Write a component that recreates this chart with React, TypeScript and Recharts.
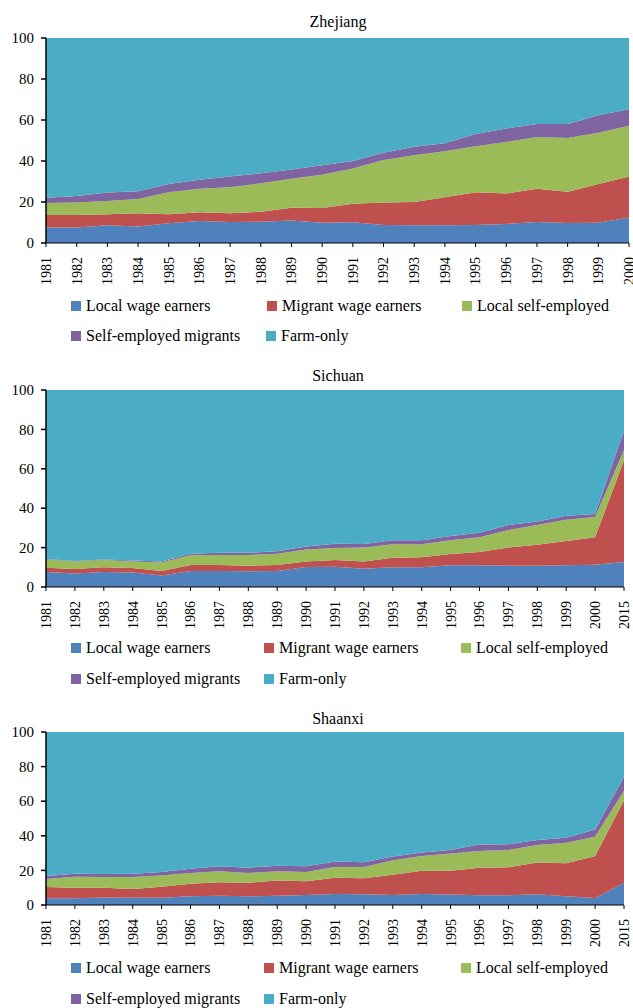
import React from 'react';
import { AreaChart, Area, XAxis, YAxis } from 'recharts';

const yearsA = ['1981', '1982', '1983', '1984', '1985', '1986', '1987', '1988', '1989', '1990', '1991', '1992', '1993', '1994', '1995', '1996', '1997', '1998', '1999', '2000'];
const yearsB = [...yearsA, '2015'];
const yTicks = [0, 20, 40, 60, 80, 100];

const seriesNames = ['Local wage earners', 'Migrant wage earners', 'Local self-employed', 'Self-employed migrants', 'Farm-only'];
const seriesKeys = ['lw', 'mw', 'ls', 'sm', 'fo'];
const seriesColors = ['#4F81BD', '#C0504D', '#9BBB59', '#8064A2', '#4BACC6'];

// Zhejiang
const zjLocalWage = [7.6, 7.6, 8.6, 8.0, 9.6, 10.7, 10.2, 10.4, 11.0, 9.9, 10.1, 8.8, 8.6, 8.6, 8.8, 9.3, 10.2, 9.8, 9.9, 12.5];
const zjMigrantWage = [6.1, 6.1, 5.4, 6.5, 4.4, 4.3, 4.3, 4.9, 6.2, 7.2, 9.1, 10.9, 11.4, 13.7, 15.9, 14.8, 16.3, 15.2, 18.9, 19.9];
const zjLocalSelf = [5.8, 6.1, 6.5, 7.0, 10.7, 11.5, 12.7, 13.8, 14.2, 16.2, 17.2, 20.8, 22.8, 22.4, 22.5, 25.2, 25.2, 26.2, 25.0, 24.8];
const zjSelfMigrant = [2.6, 3.1, 4.1, 3.7, 4.1, 4.4, 5.2, 4.9, 4.4, 4.6, 3.6, 3.5, 4.2, 3.9, 6.0, 6.5, 6.3, 6.8, 8.5, 8.0];
const zjFarmOnly = [77.9, 77.1, 75.4, 74.8, 71.2, 69.1, 67.6, 66.0, 64.2, 62.1, 60.0, 56.0, 53.0, 51.4, 46.8, 44.2, 42.0, 42.0, 37.7, 34.8];

// Sichuan
const scLocalWage = [7.6, 6.8, 7.6, 7.3, 5.8, 8.1, 8.1, 8.0, 8.1, 10.2, 10.3, 9.3, 10.0, 10.0, 11.0, 11.0, 10.8, 10.8, 11.0, 11.3, 12.7];
const scMigrantWage = [2.2, 2.3, 2.4, 2.3, 2.3, 3.1, 3.1, 2.8, 3.1, 2.7, 3.4, 3.6, 4.9, 5.1, 5.8, 6.8, 9.2, 10.7, 12.4, 13.9, 51.8];
const scLocalSelf = [4.2, 3.8, 3.7, 3.3, 4.4, 4.9, 5.0, 5.4, 5.7, 6.1, 6.1, 7.1, 6.8, 6.6, 6.9, 7.4, 8.9, 10.0, 10.8, 10.3, 5.0];
const scSelfMigrant = [0.2, 0.3, 0.2, 0.6, 0.5, 0.8, 1.2, 1.2, 1.2, 1.6, 2.2, 1.8, 2.0, 2.0, 2.2, 2.4, 2.6, 1.7, 2.0, 1.6, 10.0];
const scFarmOnly = [85.8, 86.8, 86.1, 86.5, 87.0, 83.1, 82.6, 82.6, 81.9, 79.4, 78.0, 78.2, 76.3, 76.3, 74.1, 72.4, 68.5, 66.8, 63.8, 62.9, 20.5];

// Shaanxi
const sxLocalWage = [3.9, 3.9, 4.4, 4.2, 4.2, 5.0, 5.4, 5.0, 5.4, 5.8, 6.4, 6.2, 5.8, 6.4, 6.0, 5.6, 5.6, 6.2, 5.0, 4.0, 12.7];
const sxMigrantWage = [6.5, 6.1, 5.6, 5.0, 6.4, 7.3, 7.7, 7.9, 8.7, 7.9, 9.4, 9.2, 11.7, 13.4, 13.8, 16.0, 16.2, 18.3, 19.1, 24.3, 47.8];
const sxLocalSelf = [4.6, 6.4, 6.2, 7.0, 6.4, 6.2, 6.4, 5.6, 5.4, 5.4, 6.2, 6.6, 8.3, 8.5, 9.9, 9.6, 10.0, 10.2, 11.9, 11.2, 5.6];
const sxSelfMigrant = [1.8, 1.7, 1.7, 1.9, 2.1, 2.5, 2.9, 3.1, 3.2, 3.3, 3.2, 2.7, 2.3, 2.1, 2.1, 3.7, 3.3, 2.9, 2.9, 4.2, 8.1];
const sxFarmOnly = [83.2, 81.9, 82.1, 81.9, 80.9, 79.0, 77.6, 78.4, 77.3, 77.6, 74.8, 75.3, 71.9, 69.6, 68.2, 65.1, 64.9, 62.4, 61.1, 56.3, 25.8];

const FONT = "'Liberation Serif', 'Times New Roman', Times, serif";

function buildRows(years: string[], a: number[], b: number[], c: number[], d: number[], e: number[]) {
  return years.map((y, i) => ({ year: y, lw: a[i], mw: b[i], ls: c[i], sm: d[i], fo: e[i] }));
}

const XTick = (props: any) => {
  const { x, y, payload } = props;
  return (
    <g transform={`translate(${x},${y})`}>
      <text transform="rotate(-90)" x={-8} y={0} dy="0.35em" textAnchor="end" fontSize={14} fontFamily={FONT} fill="#000">
        {payload.value}
      </text>
    </g>
  );
};

const YTick = (props: any) => {
  const { x, y, payload } = props;
  return (
    <text x={x} y={y} dy="0.35em" textAnchor="end" fontSize={15} fontFamily={FONT} fill="#000">
      {payload.value}
    </text>
  );
};

type PanelProps = {
  data: any[];
  top: number;
  plotTop: number;
  plotBottom: number;
  plotRight: number;
};

const Panel = ({ data, top, plotTop, plotBottom, plotRight }: PanelProps) => {
  const height = plotBottom - top + 50;
  return (
    <div style={{ position: 'absolute', left: 0, top }}>
      <AreaChart
        width={633}
        height={height}
        data={data}
        margin={{ top: plotTop - top, right: 633 - plotRight, left: 0, bottom: 0 }}
      >
        <XAxis
          dataKey="year"
          type="category"
          height={50}
          interval={0}
          tick={<XTick />}
          tickSize={4}
          tickMargin={2}
          axisLine={{ stroke: '#000', strokeWidth: 1 }}
          tickLine={{ stroke: '#000', strokeWidth: 1 }}
        />
        <YAxis
          type="number"
          domain={[0, 100]}
          ticks={yTicks}
          width={46}
          interval={0}
          tickSize={5}
          tickMargin={7}
          tick={<YTick />}
          axisLine={{ stroke: '#000', strokeWidth: 1.5 }}
          tickLine={{ stroke: '#000', strokeWidth: 1.5 }}
          allowDataOverflow
        />
        {seriesKeys.map((k, i) => (
          <Area
            key={k}
            type="linear"
            dataKey={k}
            name={seriesNames[i]}
            stackId="1"
            fill={seriesColors[i]}
            fillOpacity={1}
            stroke="none"
            isAnimationActive={false}
          />
        ))}
      </AreaChart>
    </div>
  );
};

type LegendSpec = { row1: number; row2: number; xs: number[] };

const LegendSvg = ({ spec }: { spec: LegendSpec }) => {
  const rows = [spec.row1, spec.row1, spec.row1, spec.row2, spec.row2];
  return (
    <g>
      {seriesNames.map((n, i) => (
        <g key={n}>
          <rect x={spec.xs[i]} y={rows[i] - 10} width={10} height={10} fill={seriesColors[i]} />
          <text x={spec.xs[i] + 15} y={rows[i]} fontSize={16} fontFamily={FONT} fill="#000">
            {n}
          </text>
        </g>
      ))}
    </g>
  );
};

const zjData = buildRows(yearsA, zjLocalWage, zjMigrantWage, zjLocalSelf, zjSelfMigrant, zjFarmOnly);
const scData = buildRows(yearsB, scLocalWage, scMigrantWage, scLocalSelf, scSelfMigrant, scFarmOnly);
const sxData = buildRows(yearsB, sxLocalWage, sxMigrantWage, sxLocalSelf, sxSelfMigrant, sxFarmOnly);

export default function App() {
  return (
    <div style={{ position: 'absolute', left: 0, top: 0, width: 633, height: 1008, background: '#fff', overflow: 'hidden' }}>
      <Panel data={zjData} top={0} plotTop={38} plotBottom={243} plotRight={629} />
      <Panel data={scData} top={350} plotTop={390} plotBottom={587} plotRight={624} />
      <Panel data={sxData} top={690} plotTop={732} plotBottom={905} plotRight={624} />
      <svg width={633} height={1008} style={{ position: 'absolute', left: 0, top: 0, pointerEvents: 'none' }}>
        <text x={338} y={27} textAnchor="middle" fontSize={16} fontFamily={FONT} fill="#000">Zhejiang</text>
        <text x={338} y={381} textAnchor="middle" fontSize={16} fontFamily={FONT} fill="#000">Sichuan</text>
        <text x={338} y={724} textAnchor="middle" fontSize={16} fontFamily={FONT} fill="#000">Shaanxi</text>
        <LegendSvg spec={{ row1: 311, row2: 341, xs: [71, 267, 462, 71, 266] }} />
        <LegendSvg spec={{ row1: 653, row2: 684, xs: [71, 264, 461, 71, 264] }} />
        <LegendSvg spec={{ row1: 973, row2: 1004, xs: [71, 264, 461, 71, 264] }} />
      </svg>
    </div>
  );
}
